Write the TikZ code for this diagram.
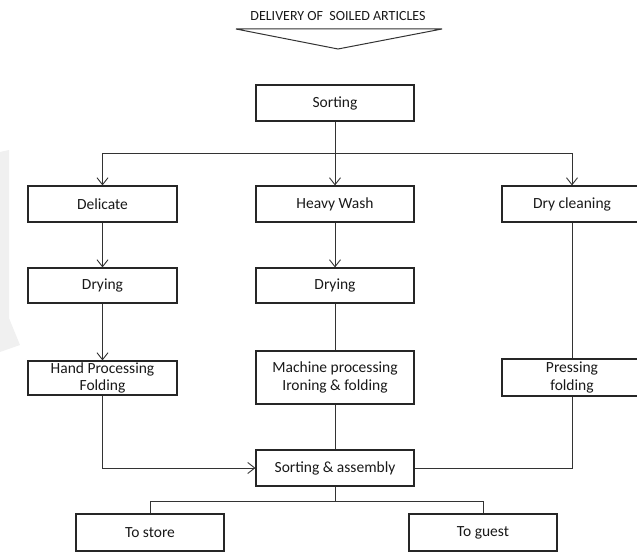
\documentclass[tikz,border=0pt]{standalone}
\usepackage{fontspec}
\setmainfont{Carlito}
\usetikzlibrary{arrows.meta}
\begin{document}
\begin{tikzpicture}[x=1pt,y=-1pt,
  box/.style={draw=black!85, line width=1.1pt, fill=white, inner sep=0pt,
    align=center, font=\fontsize{15.5}{17.5}\selectfont, text=black!90},
  flow/.style={draw=black!80, line width=0.9pt},
  arr/.style={flow, -{Straight Barb[length=7pt,width=11pt,line width=0.9pt]}}]
  \useasboundingbox (0,0) rectangle (637,556);
  \clip (0,0) rectangle (637,556);
  % faint background mark at the left edge
  \fill[black!6] (0,152) -- (9,150) -- (9,318) -- (20,345) -- (0,352) -- cycle;

  % heading and intake arrow
  \node[font=\fontsize{14}{16}\selectfont, text=black!90] (title) at (338,16) {DELIVERY OF\ \ SOILED ARTICLES};
  \draw[line width=1pt, draw=black!80] (236,29) -- (442,29) -- (338,49) -- cycle;

  % process boxes
  \node[box, minimum width=158pt, minimum height=36pt] (sort) at (335,103) {Sorting};
  \node[box, minimum width=149pt, minimum height=36pt] (del)  at (102.5,204) {Delicate};
  \node[box, minimum width=158pt, minimum height=36pt] (hw)   at (335,204) {Heavy Wash};
  \node[box, minimum width=140pt, minimum height=36pt] (dc)   at (572,204) {Dry cleaning};
  \node[box, minimum width=149pt, minimum height=35pt] (dry1) at (102.5,285.5) {Drying};
  \node[box, minimum width=158pt, minimum height=35pt] (dry2) at (335,285.5) {Drying};
  \node[box, minimum width=149pt, minimum height=34pt] (hp)   at (102.5,378) {Hand Processing\\Folding};
  \node[box, minimum width=158pt, minimum height=53pt] (mp)   at (335,377.5) {Machine processing\\Ironing \& folding};
  \node[box, minimum width=140pt, minimum height=37pt] (pf)   at (572,377.5) {Pressing\\folding};
  \node[box, minimum width=158pt, minimum height=36pt] (sa)   at (335,468) {Sorting \& assembly};
  \node[box, minimum width=148pt, minimum height=37pt] (ts)   at (150,532.5) {To store};
  \node[box, minimum width=148pt, minimum height=37pt] (tg)   at (483,532.5) {To guest};

  % branch points
  \coordinate (split) at (335,153);
  \coordinate (join)  at (335,501);

  % sorting into the three lines
  \draw[arr] (sort.south) -- (hw.north);
  \draw[arr] (split) -| (del.north);
  \draw[arr] (split) -| (dc.north);

  % delicate line
  \draw[arr] (del.south) -- (dry1.north);
  \draw[arr] (dry1.south) -- (hp.north);
  \draw[arr] (hp.south) |- (sa.west);

  % heavy wash line
  \draw[arr] (hw.south) -- (dry2.north);
  \draw[flow] (dry2.south) -- (mp.north);
  \draw[flow] (mp.south) -- (sa.north);

  % dry cleaning line
  \draw[flow] (dc.south) -- (pf.north);
  \draw[flow] (pf.south) |- (sa.east);

  % dispatch
  \draw[flow] (sa.south) -- (join);
  \draw[flow] (join) -| (ts.north);
  \draw[flow] (join) -| (tg.north);
\end{tikzpicture}
\end{document}
